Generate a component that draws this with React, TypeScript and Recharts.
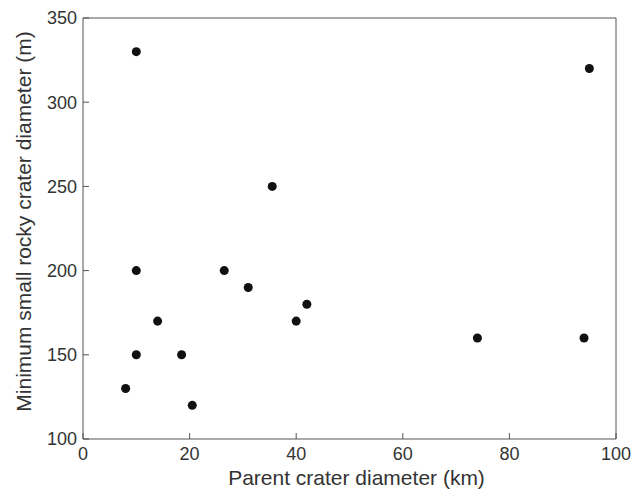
import React from "react";
import { ScatterChart, Scatter, XAxis, YAxis, ZAxis } from "recharts";

// parent crater diameter (km) vs minimum small rocky crater diameter (m)
const parentDiameterKm = [10, 95, 35.5, 10, 26.5, 31, 42, 40, 14, 10, 18.5, 8, 20.5, 74, 94];
const minRockyDiameterM = [330, 320, 250, 200, 200, 190, 180, 170, 170, 150, 150, 130, 120, 160, 160];

const xTicks = [0, 20, 40, 60, 80, 100];
const yTicks = [100, 150, 200, 250, 300, 350];

const data = parentDiameterKm.map((x, i) => ({ x, y: minRockyDiameterM[i] }));

const AXIS = "#555";
const TEXT = "#333";
const FONT = "'Liberation Sans', Arial, Helvetica, sans-serif";

// empty tick label so the top/right axes only draw their tick marks
const NoLabel = () => <g />;

const XLabel = (props: any) => {
  const vb = props.viewBox;
  return (
    <text
      x={vb.x + vb.width / 2 + 7}
      y={vb.y + vb.height - 6}
      textAnchor="middle"
      fill={TEXT}
      fontSize={21}
      fontFamily={FONT}
    >
      Parent crater diameter (km)
    </text>
  );
};

const YLabel = (props: any) => {
  const vb = props.viewBox;
  const cx = vb.x + 31;
  const cy = vb.y + vb.height / 2 - 7;
  return (
    <text
      x={cx}
      y={cy}
      transform={`rotate(-90, ${cx}, ${cy})`}
      textAnchor="middle"
      fill={TEXT}
      fontSize={21}
      fontFamily={FONT}
    >
      Minimum small rocky crater diameter (m)
    </text>
  );
};

export default function App() {
  return (
    <div style={{ position: "absolute", left: 0, top: 0, background: "#fff", fontFamily: FONT }}>
      <ScatterChart width={634} height={491} margin={{ top: 17, right: 17, bottom: 0, left: 0 }}>
        <XAxis
          type="number"
          dataKey="x"
          domain={[0, 100]}
          ticks={xTicks}
          height={52}
          stroke={AXIS}
          tickLine={{ stroke: AXIS }}
          tickSize={-6}
          tickMargin={14}
          tick={{ fill: TEXT, fontSize: 18 }}
          label={{ content: <XLabel /> }}
        />
        <XAxis
          xAxisId="top"
          orientation="top"
          type="number"
          dataKey="x"
          domain={[0, 100]}
          ticks={xTicks}
          height={1}
          stroke={AXIS}
          tickLine={{ stroke: AXIS }}
          tickSize={-6}
          tick={<NoLabel />}
        />
        <YAxis
          type="number"
          dataKey="y"
          domain={[100, 350]}
          ticks={yTicks}
          width={83}
          stroke={AXIS}
          tickLine={{ stroke: AXIS }}
          tickSize={-6}
          tickMargin={12}
          tick={{ fill: TEXT, fontSize: 18 }}
          label={{ content: <YLabel /> }}
        />
        <YAxis
          yAxisId="right"
          orientation="right"
          type="number"
          dataKey="y"
          domain={[100, 350]}
          ticks={yTicks}
          width={1}
          stroke={AXIS}
          tickLine={{ stroke: AXIS }}
          tickSize={-6}
          tick={<NoLabel />}
        />
        <ZAxis range={[58, 58]} />
        <Scatter data={data} fill="#111" isAnimationActive={false} />
      </ScatterChart>
    </div>
  );
}
